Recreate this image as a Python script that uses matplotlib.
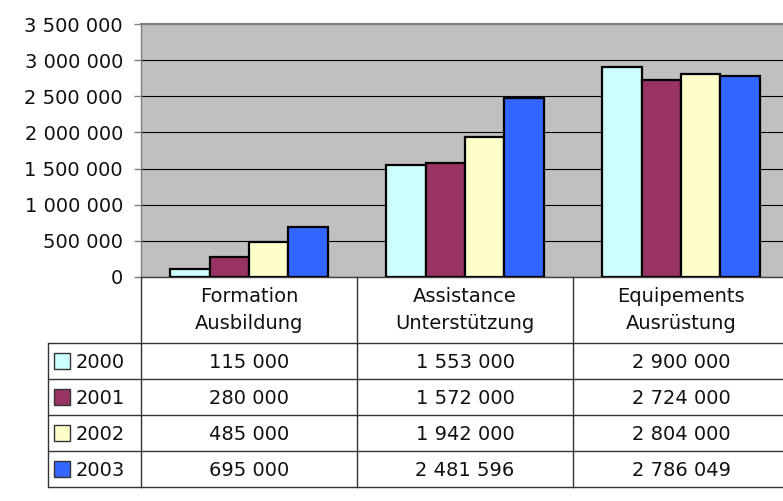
import matplotlib
matplotlib.use("Agg")
import matplotlib.pyplot as plt
import matplotlib.transforms as mtransforms
from matplotlib.ticker import FuncFormatter, MultipleLocator
import numpy as np

categories = ["Formation\nAusbildung", "Assistance\nUnterstützung", "Equipements\nAusrüstung"]
years = ["2000", "2001", "2002", "2003"]
v2000 = [115000, 1553000, 2900000]
v2001 = [280000, 1572000, 2724000]
v2002 = [485000, 1942000, 2804000]
v2003 = [695000, 2481596, 2786049]
series = [v2000, v2001, v2002, v2003]
colors = ["#CCFFFF", "#993366", "#FFFFCC", "#3366FF"]

W, H = 783, 501
fig = plt.figure(figsize=(W / 100, H / 100), dpi=100)
plt.rcParams['font.family'] = ['DejaVu Sans']

def fmt(v):
    return f"{int(round(v)):,}".replace(",", " ")

FS = 14
TXT = "#111111"

ax = fig.add_axes([141 / W, (H - 277) / H, (W - 141) / W, (277 - 24) / H])
ax.set_facecolor("#C0C0C0")
ax.set_ylim(0, 3500000)
ax.set_xlim(-0.5, 2.5 - 6 / 216)
ax.yaxis.set_major_locator(MultipleLocator(500000))
ax.yaxis.set_major_formatter(FuncFormatter(lambda v, p: fmt(v)))
ax.tick_params(axis="y", length=5, width=1, color="#808080", pad=8, labelsize=FS, labelcolor=TXT)
ax.tick_params(axis="x", length=0, labelbottom=False)
ax.grid(axis="y", color="black", linewidth=0.8)
ax.set_axisbelow(True)
ax.spines["right"].set_visible(False)
ax.spines["top"].set_color("#808080")
ax.spines["top"].set_linewidth(1.5)
ax.spines["left"].set_color("#808080")
ax.spines["left"].set_linewidth(1)
ax.spines["bottom"].set_color("#404040")
ax.spines["bottom"].set_linewidth(1)

x = np.arange(len(categories))
n = len(series)
bw = 1 / (n + 1.5)
for i, (vals, c) in enumerate(zip(series, colors)):
    ax.bar(x + (i - (n - 1) / 2) * bw, vals, width=bw, color=c, edgecolor="black",
           linewidth=1.6, zorder=3)

# table overlay
tab = fig.add_axes([0, 0, 1, 1], facecolor="none")
tab.set_xlim(0, W)
tab.set_ylim(H, 0)
tab.axis("off")
bt = mtransforms.blended_transform_factory(ax.transData, tab.transData)

line_c = "#333333"
y_head_top, y_head_bot = 277, 343
row_h = 36
rows_y = [y_head_bot + k * row_h for k in range(len(years) + 1)]
left_x = 48

for yy in rows_y:
    tab.plot([left_x, W], [yy, yy], color=line_c, lw=1, solid_capstyle="butt")
tab.plot([left_x, left_x], [rows_y[0], rows_y[-1]], color=line_c, lw=1)
for b in np.arange(-0.5, len(categories) - 0.4, 1.0):
    tab.plot([b, b], [y_head_top, rows_y[-1]], color=line_c, lw=1, transform=bt, clip_on=False)

for i, cat in enumerate(categories):
    tab.text(i, (y_head_top + y_head_bot) / 2, cat, transform=bt, ha="center", va="center",
             fontsize=FS, linespacing=1.55, color=TXT)

for r, (yr, vals, c) in enumerate(zip(years, series, colors)):
    yc = rows_y[r] + row_h / 2
    tab.add_patch(plt.Rectangle((54, yc - 8), 16, 16, facecolor=c, edgecolor="#333333", lw=1))
    tab.text(76, yc + 1, yr, ha="left", va="center", fontsize=FS, color=TXT)
    for i, v in enumerate(vals):
        tab.text(i, yc + 1, fmt(v), transform=bt, ha="center", va="center", fontsize=FS,
                 color=TXT)

fig.savefig("out.png", dpi=100)
